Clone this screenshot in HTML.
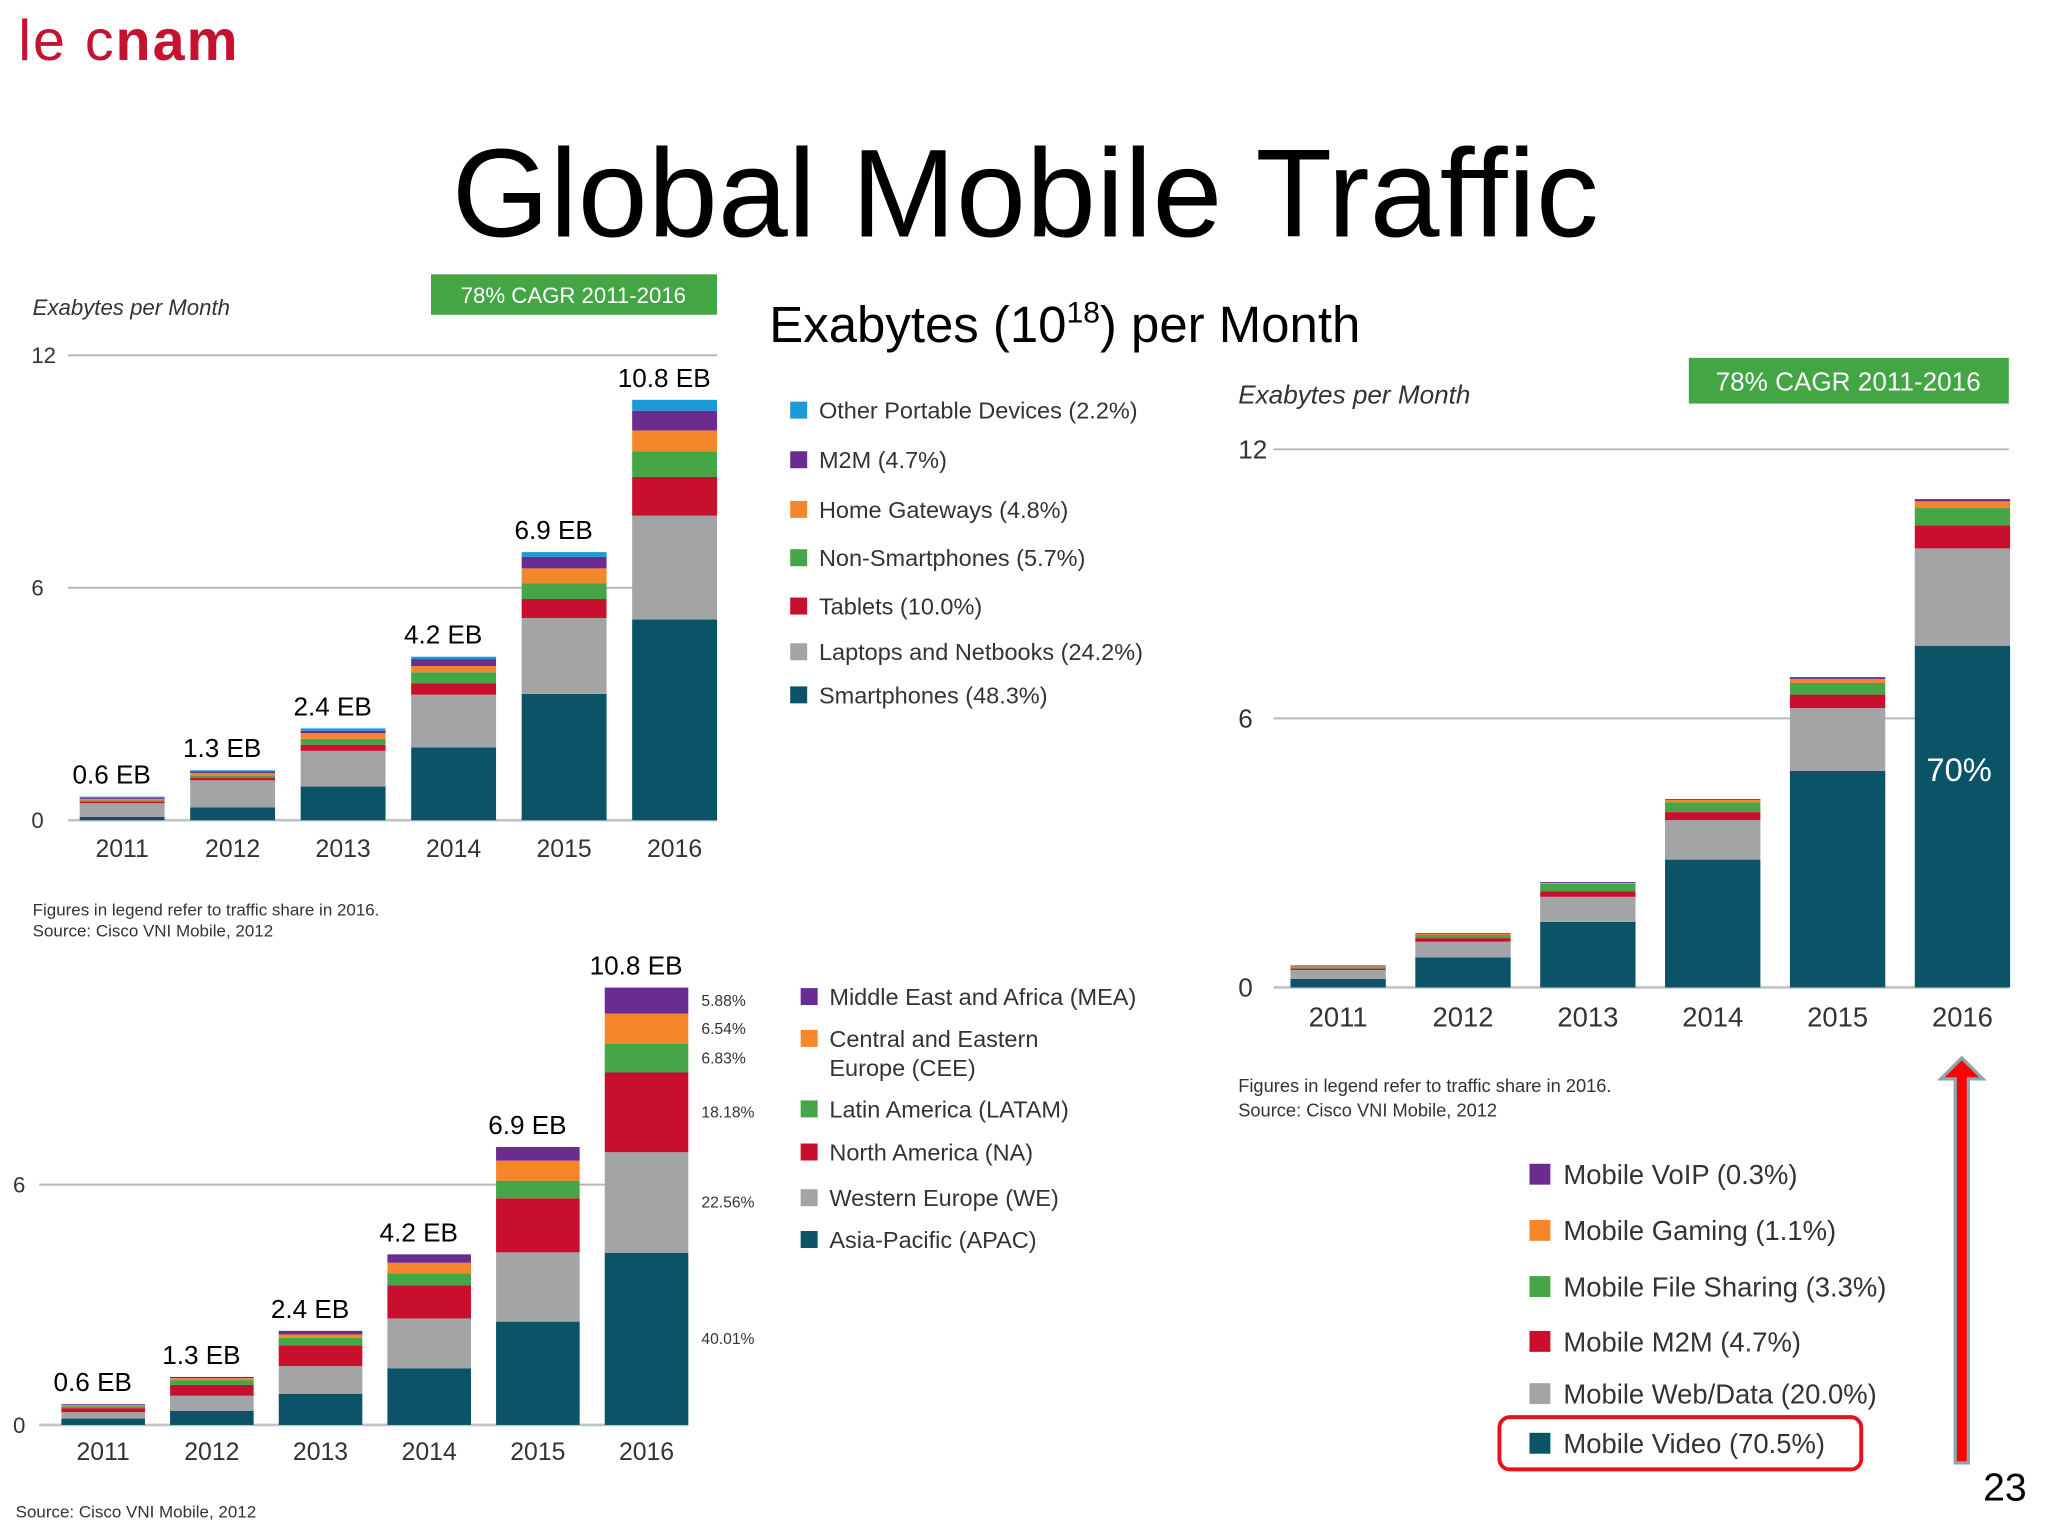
<!DOCTYPE html>
<html><head><meta charset="utf-8">
<style>
html,body{margin:0;padding:0;background:#fff;}
svg{display:block;font-family:"Liberation Sans",sans-serif;}
</style></head>
<body>
<svg id="s" xmlns="http://www.w3.org/2000/svg" width="2048" height="1536" viewBox="0 0 1568 1176">
<rect width="1568" height="1176" fill="#fff"/>
<text x="14" y="46" font-size="44" fill="#c4122f" letter-spacing="1.5">le c<tspan font-weight="bold">nam</tspan></text>
<text x="785" y="181" font-size="96" text-anchor="middle" fill="#000" textLength="878">Global Mobile Traffic</text>
<text x="589" y="262" font-size="39" fill="#000">Exabytes (10<tspan font-size="23" dy="-15">18</tspan><tspan dy="15">) per Month</tspan></text>

<text x="25" y="241" font-size="17" font-style="italic" fill="#333">Exabytes per Month</text>
<rect x="330" y="210" width="219" height="31" fill="#44a545"/>
<text x="439" y="232" font-size="17" fill="#fff" text-anchor="middle">78% CAGR 2011-2016</text>
<text x="25" y="701" font-size="13" fill="#333">Figures in legend refer to traffic share in 2016.</text>
<text x="25" y="717" font-size="13" fill="#333">Source: Cisco VNI Mobile, 2012</text>

<text x="948" y="309" font-size="20" font-style="italic" fill="#333">Exabytes per Month</text>
<rect x="1293" y="274" width="245" height="35" fill="#44a545"/>
<text x="1415" y="299" font-size="20" fill="#fff" text-anchor="middle">78% CAGR 2011-2016</text>
<text x="948" y="836" font-size="14" fill="#333">Figures in legend refer to traffic share in 2016.</text>
<text x="948" y="855" font-size="14" fill="#333">Source: Cisco VNI Mobile, 2012</text>

<text x="12" y="1162" font-size="13" fill="#333">Source: Cisco VNI Mobile, 2012</text>

<rect x="1148" y="1085" width="277" height="40" rx="8" fill="none" stroke="#e8101a" stroke-width="3"/>
<polygon points="1497,1120 1497,826 1486,826 1502,810 1518,826 1507,826 1507,1120" fill="#f00" stroke="#8fa3a8" stroke-width="2.5"/>
<text x="1535" y="1149" font-size="30" text-anchor="middle" fill="#000">23</text>

<g id="charts"></g>
</svg>
<script>
const c1Years = ["2011","2012","2013","2014","2015","2016"];
const c1Totals = ["0.6 EB","1.3 EB","2.4 EB","4.2 EB","6.9 EB","10.8 EB"];
const c1Ticks = [0,6,12];
const c1Names = ["Smartphones (48.3%)","Laptops and Netbooks (24.2%)","Tablets (10.0%)","Non-Smartphones (5.7%)","Home Gateways (4.8%)","M2M (4.7%)","Other Portable Devices (2.2%)"];
const c1Smart = [0.09,0.33,0.87,1.88,3.26,5.18];
const c1Laptop = [0.35,0.70,0.92,1.36,1.96,2.68];
const c1Tablet = [0.04,0.06,0.16,0.29,0.49,1.00];
const c1NonSmart = [0.03,0.07,0.15,0.29,0.40,0.66];
const c1Gateway = [0.04,0.06,0.15,0.16,0.39,0.54];
const c1M2M = [0.03,0.04,0.06,0.18,0.30,0.51];
const c1Other = [0.03,0.03,0.06,0.06,0.12,0.28];

const c2Years = ["2011","2012","2013","2014","2015","2016"];
const c2Ticks = [0,6,12];
const c2Names = ["Mobile Video (70.5%)","Mobile Web/Data (20.0%)","Mobile M2M (4.7%)","Mobile File Sharing (3.3%)","Mobile Gaming (1.1%)","Mobile VoIP (0.3%)"];
const c2Video = [0.19,0.67,1.46,2.85,4.83,7.62];
const c2Web = [0.20,0.35,0.56,0.88,1.40,2.17];
const c2M2M = [0.03,0.08,0.12,0.18,0.30,0.51];
const c2File = [0.03,0.07,0.17,0.22,0.26,0.39];
const c2Gaming = [0.02,0.02,0.02,0.05,0.09,0.15];
const c2VoIP = [0.02,0.02,0.02,0.02,0.04,0.05];

const c3Years = ["2011","2012","2013","2014","2015","2016"];
const c3Totals = ["0.6 EB","1.3 EB","2.4 EB","4.2 EB","6.9 EB","10.8 EB"];
const c3Ticks = [0,6];
const c3Names = ["Asia-Pacific (APAC)","Western Europe (WE)","North America (NA)","Latin America (LATAM)","Central and Eastern Europe (CEE)","Middle East and Africa (MEA)"];
const c3Shares = ["40.01%","22.56%","18.18%","6.83%","6.54%","5.88%"];
const c3APAC = [0.16,0.35,0.78,1.41,2.58,4.30];
const c3WE = [0.16,0.38,0.69,1.25,1.73,2.51];
const c3NA = [0.10,0.27,0.52,0.83,1.35,1.99];
const c3LATAM = [0.05,0.12,0.19,0.30,0.44,0.72];
const c3CEE = [0.03,0.05,0.08,0.26,0.50,0.75];
const c3MEA = [0.02,0.03,0.09,0.21,0.34,0.65];

const TEAL="#0b5468", GRAY="#a3a4a6", RED="#c8102e", GREEN="#46a546", ORANGE="#f5862a", PURPLE="#6a2d8f", CYAN="#1a9bd7";
const NS="http://www.w3.org/2000/svg";
const root=document.getElementById('charts');
function mk(tag,attrs,parent){const e=document.createElementNS(NS,tag);for(const k in attrs)e.setAttribute(k,attrs[k]);(parent||root).appendChild(e);return e;}

function drawChart(cfg){
  const g=mk('g',{});
  
  
  const y=v=>cfg.y0-(v/cfg.maxV)*(cfg.y0-cfg.yTop);
  const xL=i=>cfg.x0+i*cfg.step;
  cfg.ticks.forEach(t=>{
    const ln=mk('line',{x1:cfg.gridX1,x2:cfg.gridX2,y1:y(t),y2:y(t),stroke:t===0?"#bfc3c5":"#b5b8ba","stroke-width":t===0?2:1.5},g);
    
    
    const tx=mk('text',{x:cfg.tickX,y:y(t)+cfg.tickFs*0.35,"font-size":cfg.tickFs,fill:"#333"},g);
    tx.textContent=t;
    
    
  });
  cfg.years.forEach((yr,i)=>{
    let acc=0;
    cfg.series.forEach((s,k)=>{
      const v=s.vals[i];
      const r=mk('rect',{x:xL(i),y:y(acc+v),width:cfg.barW,height:Math.max(0,y(acc)-y(acc+v)),fill:s.color},g);
      
      
      acc+=v;
    });
    const lb=mk('text',{x:xL(i)+cfg.barW/2,y:cfg.yearY,"font-size":cfg.yearFs,fill:"#333","text-anchor":"middle"},g);
    lb.textContent=yr;
    
    
    if(cfg.totals){
      const tl=mk('text',{x:xL(i)+cfg.barW/2-(i===5?8:8),y:y(acc)-10,"font-size":20,fill:"#000","text-anchor":"middle"},g);
      tl.textContent=cfg.totals[i];
      
      
    }
  });
  return {g,y,xL};
}

drawChart({name:"device-chart",years:c1Years,totals:c1Totals,ticks:c1Ticks,maxV:12,y0:628,yTop:272,x0:61,step:84.6,barW:65,
  gridX1:52,gridX2:549,tickX:24,tickFs:17,yearY:656,yearFs:19,
  series:[{key:"smartphones",vals:c1Smart,color:TEAL},{key:"laptops",vals:c1Laptop,color:GRAY},{key:"tablets",vals:c1Tablet,color:RED},
   {key:"non-smartphones",vals:c1NonSmart,color:GREEN},{key:"home-gateways",vals:c1Gateway,color:ORANGE},{key:"m2m",vals:c1M2M,color:PURPLE},{key:"other-portable",vals:c1Other,color:CYAN}]});

const ch2=drawChart({name:"application-chart",years:c2Years,ticks:c2Ticks,maxV:12,y0:756,yTop:344,x0:988,step:95.6,barW:73,
  gridX1:975,gridX2:1538,tickX:948,tickFs:20,yearY:786,yearFs:21,
  series:[{key:"video",vals:c2Video,color:TEAL},{key:"web-data",vals:c2Web,color:GRAY},{key:"m2m",vals:c2M2M,color:RED},
   {key:"file-sharing",vals:c2File,color:GREEN},{key:"gaming",vals:c2Gaming,color:ORANGE},{key:"voip",vals:c2VoIP,color:PURPLE}]});
const p70=mk('text',{x:1500,y:598,"font-size":25,fill:"#fff","text-anchor":"middle"},ch2.g);
p70.textContent="70%";



const ch3=drawChart({name:"region-chart",years:c3Years,totals:c3Totals,ticks:c3Ticks,maxV:6,y0:1091,yTop:907,x0:47,step:83.2,barW:64,
  gridX1:30,gridX2:527,tickX:10,tickFs:17,yearY:1118,yearFs:19,
  series:[{key:"apac",vals:c3APAC,color:TEAL},{key:"we",vals:c3WE,color:GRAY},{key:"na",vals:c3NA,color:RED},
   {key:"latam",vals:c3LATAM,color:GREEN},{key:"cee",vals:c3CEE,color:ORANGE},{key:"mea",vals:c3MEA,color:PURPLE}]});
{
  const vals=[c3APAC,c3WE,c3NA,c3LATAM,c3CEE,c3MEA];
  let acc=0;
  vals.forEach((arr,k)=>{
    const v=arr[5];
    const t=mk('text',{x:537,y:ch3.y(acc+v/2)+4,"font-size":12,fill:"#333"},ch3.g);
    t.textContent=c3Shares[k];
    
    
    acc+=v;
  });
}

function legend(items,x,ys,sq,fs,tx,name){
  items.forEach((it,i)=>{
    const r=mk('rect',{x:x,y:ys[i]-sq/2,width:sq,height:sq,fill:it.c});
    
    
    const t=mk('text',{x:tx,y:ys[i]+fs*0.36,"font-size":fs,fill:"#333"});
    if(Array.isArray(it.t)){
      it.t.forEach((line,j)=>{const ts=mk('tspan',{x:tx,dy:j?fs*1.25:0},t);ts.textContent=line;});
    } else t.textContent=it.t;
    
    
  });
}
legend([{t:c1Names[6],c:CYAN},{t:c1Names[5],c:PURPLE},{t:c1Names[4],c:ORANGE},{t:c1Names[3],c:GREEN},{t:c1Names[2],c:RED},{t:c1Names[1],c:GRAY},{t:c1Names[0],c:TEAL}],
  605,[314,352,390,427,464,499,532],13,18,627,"device-legend");
legend([{t:c3Names[5],c:PURPLE},{t:["Central and Eastern","Europe (CEE)"],c:ORANGE},{t:c3Names[3],c:GREEN},{t:c3Names[2],c:RED},{t:c3Names[1],c:GRAY},{t:c3Names[0],c:TEAL}],
  613,[763,795,849,882,917,949],13,18,635,"region-legend");
legend([{t:c2Names[5],c:PURPLE},{t:c2Names[4],c:ORANGE},{t:c2Names[3],c:GREEN},{t:c2Names[2],c:RED},{t:c2Names[1],c:GRAY},{t:c2Names[0],c:TEAL}],
  1171,[899,942,985,1027,1067,1105],16,21,1197,"application-legend");
</script>
</body></html>
